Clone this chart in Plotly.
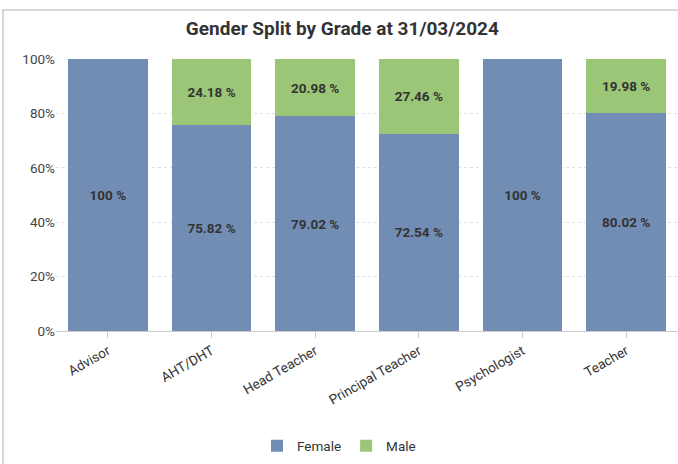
import plotly.graph_objects as go

grades = ["Advisor", "AHT/DHT", "Head Teacher", "Principal Teacher", "Psychologist", "Teacher"]
female = [100, 75.82, 79.02, 72.54, 100, 80.02]
male = [0, 24.18, 20.98, 27.46, 0, 19.98]

def lab(v):
    if v == 0:
        return ""
    return (f"{v:g}" if v == int(v) else f"{v:.2f}") + " %"

FONT = "Roboto"
fig = go.Figure()
fig.add_bar(x=grades, y=female, name="Female", marker=dict(color="#728db4", line=dict(width=0)),
            text=[lab(v) for v in female], textposition="inside", insidetextanchor="middle",
            textfont=dict(family=FONT, size=13.5, color="#333333", weight="bold"), textangle=0)
fig.add_bar(x=grades, y=male, name="Male", marker=dict(color="#9bc677", line=dict(width=0)),
            text=[lab(v) for v in male], textposition="inside", insidetextanchor="middle",
            textfont=dict(family=FONT, size=13.5, color="#333333", weight="bold"), textangle=0)

fig.update_layout(
    barmode="stack", bargap=0.23,
    width=678, height=464,
    margin=dict(l=56, r=0, t=59, b=133),
    paper_bgcolor="white", plot_bgcolor="white",
    font=dict(family=FONT, color="#333333", size=13),
    title=dict(text="<b>Gender Split by Grade at 31/03/2024</b>", x=0.505, xanchor="center",
               y=1 - 28/464, yref="container", yanchor="middle", font=dict(size=19, color="#333333", family=FONT)),
    legend=dict(orientation="h", x=0.455, xanchor="center", y=-0.423, yanchor="middle",
                font=dict(size=13.5, color="#333333"), traceorder="normal"),
    uniformtext=dict(mode=False),
)
fig.update_xaxes(tickangle=-30, showline=True, linecolor="#cccccc", ticks="outside", ticklen=6,
                 tickcolor="#cccccc", tickfont=dict(size=13.5, color="#333333"), showgrid=False)
fig.update_yaxes(range=[0, 100], dtick=20, ticksuffix="%", showgrid=True, gridcolor="#e0e0e0",
                 griddash="dot", zeroline=False, showline=False, tickfont=dict(size=13.5, color="#444444"))
x0 = (3 - 56) / 622
ytop = (331 - 10) / 272
fig.add_shape(type="path", xref="paper", yref="paper",
              path=f"M {x0},-0.5 L {x0},{ytop} L 1.0,{ytop}",
              line=dict(color="#cccccc", width=1.5), layer="below")
fig.write_html("out.html", config={"displayModeBar": False},
               post_script="document.body.style.margin='0';document.body.style.overflow='hidden';")
